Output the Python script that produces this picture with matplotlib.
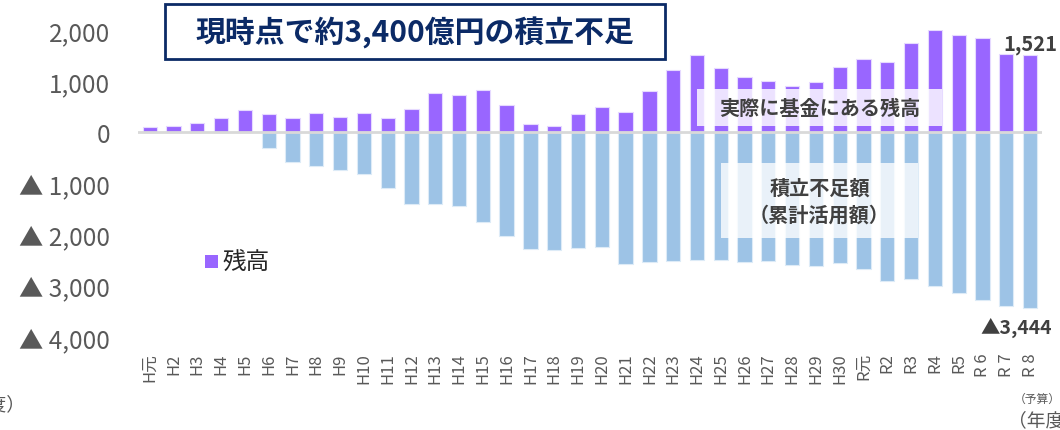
import matplotlib
matplotlib.use("Agg")
import matplotlib.pyplot as plt
from matplotlib.patches import Rectangle
from matplotlib.ticker import FuncFormatter

plt.rcParams['font.family'] = ['Noto Sans CJK JP', 'DejaVu Sans']

# -------------------------------------------------------------------------------------
# Data (億円)
years = ['H元'] + ['H%d' % i for i in range(2, 31)] + \
        ['R元', 'R2', 'R3', 'R4', 'R5', 'R 6', 'R 7', 'R 8']
balance = [104, 124, 176, 288, 445, 353, 288, 386, 308, 386,
           275, 451, 771, 739, 824, 535, 163, 118, 359, 490,
           392, 804, 1222, 1516, 1248, 1078, 1013, 915, 980, 1281,
           1425, 1373, 1751, 2006, 1908, 1843, 1535, 1521]
shortfall = [0, 0, 0, 0, 0, -308, -575, -660, -739, -810,
             -1092, -1392, -1392, -1437, -1758, -2026, -2288, -2300, -2255, -2242,
             -2582, -2543, -2523, -2503, -2503, -2536, -2516, -2595, -2621, -2562,
             -2673, -2915, -2869, -3006, -3144, -3281, -3392, -3444]
yticks = [-4000, -3000, -2000, -1000, 0, 1000, 2000]
# -------------------------------------------------------------------------------------

c_purple = '#9966FF'
c_blue = '#9DC3E6'
c_text = '#404040'
c_navy = '#0B2A66'

fig = plt.figure(figsize=(10.6, 4.31), dpi=100)
ax = fig.add_axes([0.130, 0.216, 0.853, 0.712])

x = list(range(len(years)))
ax.bar(x, shortfall, width=0.6, color=c_blue, edgecolor='#DDEBF7', linewidth=0.8, zorder=2)
ax.bar(x, balance, width=0.6, color=c_purple, edgecolor='#E6DAFF', linewidth=0.8, zorder=2)
ax.axhline(0, color='#D9D9D9', linewidth=2, zorder=3)

ax.set_xlim(-0.5, len(years) - 0.5)
ax.set_ylim(-4000, 2000)
ax.set_yticks(yticks)


def fmt(v, pos):
    if v < 0:
        return '▲ {:,}'.format(int(-v))
    return '{:,}'.format(int(v))


ax.yaxis.set_major_formatter(FuncFormatter(fmt))
ax.tick_params(axis='y', length=0, pad=20, labelsize=17.5, labelcolor='#595959')
ax.set_xticks(x)
ax.set_xticklabels(years, rotation=90, fontsize=12, color='#595959')
ax.tick_params(axis='x', length=0, pad=11)
for s in ax.spines.values():
    s.set_visible(False)

# value labels
ax.annotate('{:,}'.format(balance[-1]), xy=(x[-1], balance[-1]), xytext=(0, 8),
            textcoords='offset points', ha='center', va='center',
            fontsize=14.5, fontweight='bold', color=c_text)
ax.annotate('▲{:,}'.format(-shortfall[-1]), xy=(x[-1], shortfall[-1]), xytext=(-10, -13),
            textcoords='offset points', ha='center', va='center',
            fontsize=14, fontweight='bold', color=c_text)

# label boxes over the bars
ax.add_patch(Rectangle((0.618, 0.687), 0.271, 0.121, transform=ax.transAxes,
                       facecolor='white', alpha=0.82, edgecolor='none', zorder=4))
ax.text(0.754, 0.748, '実際に基金にある残高', transform=ax.transAxes, ha='center', va='center',
        fontsize=14.5, fontweight='bold', color=c_text, zorder=5)
ax.add_patch(Rectangle((0.645, 0.322), 0.218, 0.245, transform=ax.transAxes,
                       facecolor='white', alpha=0.78, edgecolor='none', zorder=4))
ax.text(0.754, 0.445, '積立不足額\n（累計活用額）', transform=ax.transAxes, ha='center', va='center',
        fontsize=14.5, fontweight='bold', color=c_text, linespacing=1.35, zorder=5)

# legend
fig.patches.append(Rectangle((205 / 1060, 1 - 269 / 431), 13 / 1060, 13 / 431,
                             transform=fig.transFigure, facecolor=c_purple, edgecolor='none'))
fig.text(223 / 1060, 1 - 263 / 431, '残高', ha='left', va='center', fontsize=17, color='#262626')

# title box
fig.patches.append(Rectangle((165 / 1060, 1 - 60 / 431), 500 / 1060, 55 / 431,
                             transform=fig.transFigure, facecolor='white',
                             edgecolor=c_navy, linewidth=2))
fig.text(415 / 1060, 1 - 33 / 431, '現時点で約3,400億円の積立不足', ha='center', va='center',
         fontsize=21.5, fontweight='bold', color=c_navy)

# unit notes
fig.text(1037 / 1060, 1 - 399 / 431, '（予算）', ha='center', va='center', fontsize=8.5, color='#595959')
fig.text(1008 / 1060, 1 - 421 / 431, '（年度）', ha='left', va='center', fontsize=13.5, color='#595959')
fig.text(25 / 1060, 1 - 405 / 431, '（年度）', ha='right', va='center', fontsize=13.5, color='#595959')

fig.savefig('out.png', dpi=100)
